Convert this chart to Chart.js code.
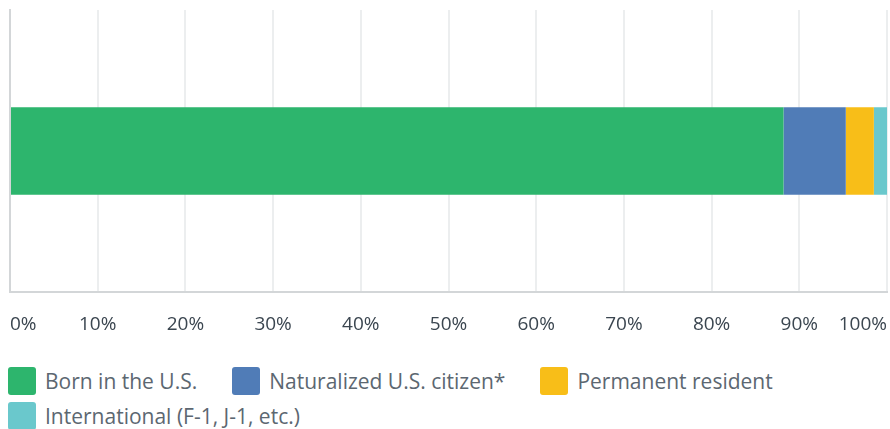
<!DOCTYPE html>
<html>
<head>
<meta charset="utf-8">
<script src="https://cdn.jsdelivr.net/npm/chart.js@4/dist/chart.umd.min.js"></script>
<style>
body { margin: 0; background: #fff; }
#wrap { position: absolute; left: 0; top: 0; width: 890px; height: 357px; }
#legend {
  position: absolute; left: 0; top: 363px;
  display: flex; flex-wrap: wrap; width: 890px;
  padding-left: 8px; box-sizing: border-box;
  font-family: "Open Sans", sans-serif; font-size: 21px; color: #5c6771;
}
.item { display: flex; align-items: center; height: 35px; margin-right: 35px; }
.box { width: 28px; height: 28px; border-radius: 3px; margin-right: 9px; }
</style>
</head>
<body>
<div id="wrap"><canvas id="chart"></canvas></div>
<div id="legend"></div>
<script>
// share of respondents by citizenship status, in percent
const groups = ["Born in the U.S.", "Naturalized U.S. citizen*", "Permanent resident", "International (F-1, J-1, etc.)"];
const shares = [88.2, 7.1, 3.2, 1.5];
const colors = ["#2db56d", "#507cb7", "#f8be18", "#6ac8cc"];
const tickValues = [0, 10, 20, 30, 40, 50, 60, 70, 80, 90, 100];

const datasets = groups.map((g, i) => ({
  label: g,
  data: [shares[i]],
  backgroundColor: colors[i],
  borderWidth: 0,
  categoryPercentage: 1,
  barPercentage: 0.31
}));

const chart = new Chart(document.getElementById("chart"), {
  type: "bar",
  data: { labels: [""], datasets: datasets },
  options: {
    indexAxis: "y",
    responsive: true,
    maintainAspectRatio: false,
    animation: false,
    layout: { padding: { left: 10, right: 3, top: 10, bottom: 0 } },
    plugins: { legend: { display: false }, tooltip: { enabled: false } },
    scales: {
      x: {
        stacked: true,
        min: 0,
        max: 100,
        afterBuildTicks: axis => { axis.ticks = tickValues.map(v => ({ value: v })); },
        // labels are aligned inside, so no side padding is needed
        afterFit: axis => { axis.paddingLeft = 0; axis.paddingRight = 0; },
        grid: { color: "#eceeef", lineWidth: 2, drawTicks: false },
        border: { color: "#d3d6d8", width: 2 },
        ticks: {
          align: "inner",
          padding: 21,
          color: "#3b4650",
          font: { family: "Open Sans", size: 19 },
          callback: v => v + "%"
        }
      },
      y: {
        stacked: true,
        grid: { display: false, drawTicks: false },
        border: { color: "#d3d6d8", width: 2 },
        ticks: { display: false }
      }
    }
  }
});

// legend built from the datasets
const legend = document.getElementById("legend");
chart.data.datasets.forEach(ds => {
  const item = document.createElement("div");
  item.className = "item";
  item.innerHTML = `<div class="box" style="background:${ds.backgroundColor}"></div><span>${ds.label}</span>`;
  legend.appendChild(item);
});
</script>
</body>
</html>
